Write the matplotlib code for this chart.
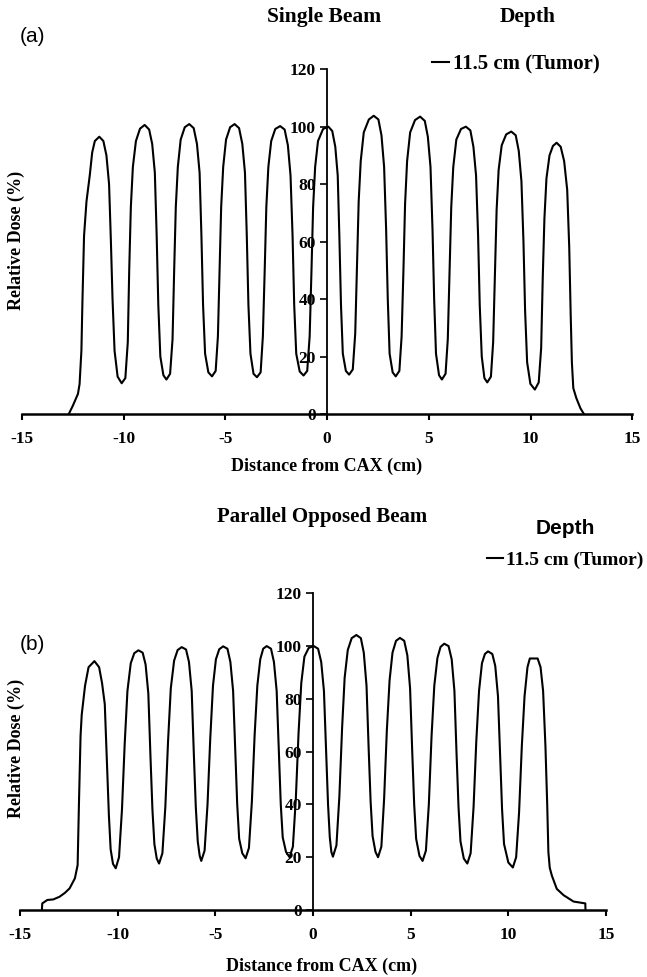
import matplotlib
matplotlib.use('Agg')
import matplotlib.pyplot as plt

plt.rcParams['axes.unicode_minus'] = False

W, H = 647, 977

# dose profile, single beam, 11.5 cm depth
xa = [-12.70, -12.50, -12.25, -12.17, -12.08, -12.03, -11.95, -11.83, -11.67, -11.55, -11.42, -11.20,
      -11.00, -10.85, -10.72, -10.63, -10.55, -10.45, -10.30, -10.10,
      -9.92, -9.80, -9.73, -9.65, -9.55, -9.40, -9.20, -8.97,
      -8.75, -8.60, -8.47, -8.38, -8.30, -8.20, -8.05, -7.90,
      -7.72, -7.60, -7.52, -7.44, -7.34, -7.20, -7.00, -6.78,
      -6.56, -6.40, -6.27, -6.18, -6.10, -6.00, -5.84, -5.66,
      -5.48, -5.37, -5.29, -5.21, -5.11, -4.97, -4.77, -4.55,
      -4.33, -4.17, -4.04, -3.95, -3.87, -3.77, -3.62, -3.45,
      -3.27, -3.16, -3.07, -2.99, -2.89, -2.75, -2.55, -2.31,
      -2.09, -1.93, -1.80, -1.70, -1.62, -1.52, -1.35, -1.16,
      -0.98, -0.86, -0.77, -0.69, -0.59, -0.45, -0.20, 0.06,
      0.25, 0.40, 0.52, 0.60, 0.68, 0.77, 0.92, 1.08,
      1.26, 1.38, 1.47, 1.55, 1.65, 1.80, 2.05, 2.29,
      2.52, 2.67, 2.80, 2.90, 2.98, 3.07, 3.22, 3.37,
      3.55, 3.66, 3.75, 3.83, 3.93, 4.08, 4.32, 4.57,
      4.80, 4.95, 5.08, 5.18, 5.26, 5.35, 5.50, 5.64,
      5.82, 5.93, 6.02, 6.10, 6.20, 6.35, 6.58, 6.82,
      7.04, 7.19, 7.32, 7.42, 7.50, 7.60, 7.73, 7.87,
      8.05, 8.16, 8.25, 8.33, 8.43, 8.58, 8.80, 9.05,
      9.27, 9.42, 9.55, 9.65, 9.73, 9.83, 9.99, 10.21,
      10.40, 10.52, 10.60, 10.68, 10.78, 10.93, 11.10, 11.28,
      11.48, 11.65, 11.80, 11.90, 11.97, 12.03, 12.10, 12.25, 12.45, 12.62]
ya = [0, 2.9, 7.0, 10.4, 22, 39, 62, 74, 83, 91, 95, 96.5,
      95, 90, 80, 60, 40, 22, 13, 10.7,
      12.5, 25, 50, 72, 86, 95, 99.3, 100.6,
      99, 94, 84, 62, 38, 20, 13.5, 12,
      14, 26, 50, 72, 86, 95.5, 99.8, 100.9,
      99.5, 94, 84, 62, 38, 21, 14.5, 13.1,
      15, 27, 50, 72, 86, 95.5, 99.8, 100.9,
      99.5, 94, 84, 62, 38, 21, 14, 12.8,
      14.5, 27, 50, 72, 86, 95, 99.2, 100.2,
      99, 93.5, 83, 62, 38, 21, 14.8, 13.4,
      15, 27, 50, 72, 86, 95, 99.2, 100,
      98.5, 93, 83, 62, 38, 21, 15, 13.7,
      15.5, 28, 52, 74, 88, 98, 102.5, 103.8,
      102.5, 97, 86, 64, 40, 21, 14.5, 13.1,
      15, 27, 50, 73, 88, 98, 102.3, 103.5,
      102, 96.5, 86, 64, 40, 21, 13.5, 12,
      14, 26, 50, 72, 86, 95.5, 99.2, 100,
      98.7, 93, 83, 62, 38, 20, 12.5, 11,
      13, 25, 50, 71, 85, 93.5, 97.3, 98.3,
      97, 91.5, 81, 60, 36, 18, 10.5, 8.5,
      11, 23, 48, 68, 82, 90, 93.3, 94.4,
      93, 88, 78, 58, 35, 18, 9, 5.5, 2, 0]

# dose profile, parallel opposed beams, 11.5 cm depth
xb = [-13.88, -13.86, -13.60, -13.30, -12.98, -12.70, -12.46, -12.19, -12.05, -11.98, -11.90, -11.84, -11.67, -11.49, -11.19,
      -10.95, -10.80, -10.66, -10.55, -10.45, -10.36, -10.24, -10.10,
      -9.93, -9.78, -9.64, -9.50, -9.33, -9.15, -8.94,
      -8.72, -8.57, -8.43, -8.32, -8.22, -8.12, -8.00, -7.88,
      -7.71, -7.56, -7.42, -7.28, -7.11, -6.93, -6.72,
      -6.50, -6.35, -6.21, -6.10, -6.00, -5.90, -5.80, -5.72,
      -5.55, -5.40, -5.26, -5.12, -4.97, -4.80, -4.60,
      -4.38, -4.23, -4.09, -3.98, -3.88, -3.78, -3.62, -3.45,
      -3.28, -3.13, -2.99, -2.85, -2.70, -2.55, -2.37,
      -2.15, -2.00, -1.86, -1.75, -1.65, -1.55, -1.38, -1.20,
      -1.03, -0.88, -0.74, -0.60, -0.44, -0.22, 0.04,
      0.26, 0.42, 0.56, 0.67, 0.77, 0.86, 0.94, 1.02,
      1.20, 1.35, 1.49, 1.62, 1.78, 1.98, 2.22,
      2.45, 2.60, 2.74, 2.85, 2.95, 3.05, 3.20, 3.33,
      3.50, 3.64, 3.78, 3.92, 4.07, 4.25, 4.45,
      4.67, 4.83, 4.97, 5.08, 5.18, 5.28, 5.45, 5.61,
      5.78, 5.93, 6.07, 6.21, 6.37, 6.53, 6.72,
      6.94, 7.10, 7.24, 7.35, 7.45, 7.55, 7.72, 7.90,
      8.07, 8.22, 8.36, 8.50, 8.65, 8.80, 8.96,
      9.18, 9.33, 9.47, 9.58, 9.68, 9.78, 10.00, 10.23,
      10.40, 10.55, 10.69, 10.83, 10.98, 11.10, 11.50,
      11.65, 11.78, 11.90, 11.99, 12.05, 12.12, 12.23, 12.48, 12.83, 13.34, 13.70, 13.94, 13.95]
yb = [0, 2.5, 3.8, 4.0, 5.0, 6.5, 8.2, 12, 17, 41, 66, 74, 85, 92, 94.3,
      92, 86, 78, 56, 36, 23, 17.5, 15.8,
      20, 38, 63, 83, 93.5, 97.3, 98.4,
      97.5, 93, 82, 58, 38, 25, 19.5, 17.6,
      21.5, 39, 64, 84, 94.5, 98.5, 99.6,
      98.7, 94, 83, 59, 39, 26, 20.5, 18.6,
      22.5, 40, 65, 85, 95, 98.8, 99.9,
      99, 94, 83, 60, 40, 27, 21.5, 19.6,
      23.5, 41, 66, 85, 95, 99, 100,
      99, 94, 83, 60, 40, 27.5, 22, 20,
      24, 42, 67, 86, 96, 99.3, 100,
      99, 94, 83, 60, 40, 27.5, 22, 20.2,
      24.5, 43, 69, 88, 98.5, 103, 104.2,
      103, 97.5, 85, 61, 41, 28, 22, 20,
      24, 42, 68, 87, 97.5, 102, 103.1,
      102, 96.5, 84, 60, 40, 27, 20.5, 18.6,
      22.5, 40, 66, 85, 95.5, 99.7, 100.9,
      100, 95, 83, 59, 39, 26, 19.5, 17.6,
      21.5, 39, 64, 83, 93.5, 97, 98,
      97, 92.5, 81, 58, 38, 25, 18, 16.1,
      20, 37, 62, 81, 92, 95.3, 95.3,
      92, 83, 62, 40, 22, 16, 13, 8, 5.6, 3.2, 2.8, 2.5, 0]

x_ticks = [-15, -10, -5, 0, 5, 10, 15]
y_ticks = [0, 20, 40, 60, 80, 100, 120]
legend_label = '11.5 cm (Tumor)'

SERIF = 'Liberation Serif'
SANS = 'Liberation Sans'


def fx(x):
    return x / W


def fy(y):
    return 1 - y / H


def setup(ax):
    ax.set_xlim(-15, 15)
    ax.set_ylim(0, 120)
    ax.patch.set_visible(False)
    ax.spines['top'].set_visible(False)
    ax.spines['right'].set_visible(False)
    ax.spines['left'].set_position(('data', 0))
    ax.spines['left'].set_linewidth(1.3)
    ax.spines['bottom'].set_linewidth(1.8)
    ax.set_xticks(x_ticks)
    ax.set_yticks(y_ticks)
    ax.tick_params(axis='x', length=4, width=1.5, pad=8)
    ax.tick_params(axis='y', length=5, width=1.2, pad=3)
    for lab in ax.get_xticklabels() + ax.get_yticklabels():
        lab.set_fontfamily(SERIF)
        lab.set_fontweight('bold')
        lab.set_fontsize(12.5)


fig = plt.figure(figsize=(W / 100, H / 100), dpi=100)

# (a) single beam
ax1 = fig.add_axes([fx(22), fy(414), 610.3 / W, 344.8 / H])
setup(ax1)
la, = ax1.plot(xa, ya, color='black', lw=1.5, label=legend_label)
ax1.legend(handles=[la], loc='center left', bbox_to_anchor=(fx(432), fy(64)),
           bbox_transform=fig.transFigure, frameon=False, handlelength=0.8,
           handletextpad=0.2, borderpad=0, borderaxespad=0,
           prop={'family': SERIF, 'weight': 'bold', 'size': 15})
fig.text(fx(324), fy(17), 'Single Beam', ha='center', va='center',
         family=SERIF, weight='bold', fontsize=15.5)
fig.text(fx(528), fy(17), 'Depth', ha='center', va='center',
         family=SERIF, weight='bold', fontsize=15.5)
fig.text(fx(20), fy(36), '(a)', ha='left', va='center', family=SANS, fontsize=15)
fig.text(fx(16), fy(240), 'Relative Dose (%)', rotation=90, ha='center', va='center',
         family=SERIF, weight='bold', fontsize=13)
fig.text(fx(327), fy(466), 'Distance from CAX (cm)', ha='center', va='center',
         family=SERIF, weight='bold', fontsize=13)

# (b) parallel opposed beams
ax2 = fig.add_axes([fx(20), fy(910), 586 / W, 316.7 / H])
setup(ax2)
lb, = ax2.plot(xb, yb, color='black', lw=1.5, label=legend_label)
ax2.legend(handles=[lb], loc='center left', bbox_to_anchor=(fx(487), fy(560)),
           bbox_transform=fig.transFigure, frameon=False, handlelength=0.8,
           handletextpad=0.2, borderpad=0, borderaxespad=0,
           prop={'family': SERIF, 'weight': 'bold', 'size': 14})
fig.text(fx(322), fy(517), 'Parallel Opposed Beam', ha='center', va='center',
         family=SERIF, weight='bold', fontsize=15)
fig.text(fx(565), fy(529), 'Depth', ha='center', va='center',
         family=SANS, weight='bold', fontsize=15)
fig.text(fx(20), fy(644), '(b)', ha='left', va='center', family=SANS, fontsize=15)
fig.text(fx(16), fy(748), 'Relative Dose (%)', rotation=90, ha='center', va='center',
         family=SERIF, weight='bold', fontsize=13)
fig.text(fx(322), fy(966), 'Distance from CAX (cm)', ha='center', va='center',
         family=SERIF, weight='bold', fontsize=13)

fig.savefig('out.png', dpi=100)
